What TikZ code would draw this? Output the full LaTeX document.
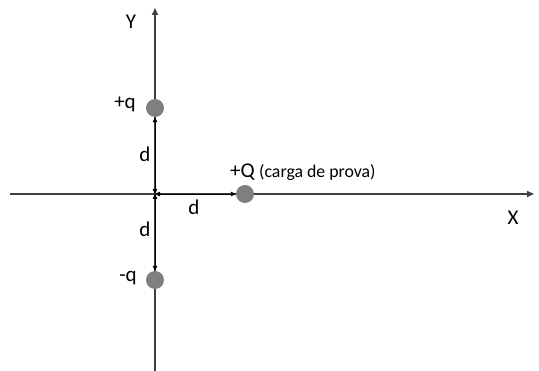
\documentclass[tikz,border=0pt]{standalone}
\usepackage{fontspec}
\setmainfont{Carlito}
\usetikzlibrary{arrows.meta}
\definecolor{axisc}{HTML}{404040}
\definecolor{chargec}{HTML}{7F7F7F}
\begin{document}
\begin{tikzpicture}[x=1pt,y=-1pt,
  axis/.style={draw=axisc,line width=1.6pt,-{Triangle[length=7pt,width=6pt]}},
  dim/.style={draw=black,line width=0.8pt,{Triangle[length=5pt,width=4.5pt]}-{Triangle[length=5pt,width=4.5pt]}},
  charge/.style={circle,fill=chargec,minimum size=18pt,inner sep=0pt},
  lbl/.style={font=\fontsize{21}{23}\selectfont,inner sep=0pt},
  small/.style={font=\fontsize{17.8}{19}\selectfont,inner sep=0pt}]
\useasboundingbox (0,0) rectangle (539,371);
\coordinate (xs) at (10,194);
\coordinate (xe) at (534,194);
\coordinate (ys) at (155,371);
\coordinate (ye) at (155,8);
\coordinate (o) at (155,194);
\draw[axis] (xs) -- (xe);
\draw[axis] (ys) -- (ye);
\node[charge] (qp) at (155,108) {};
\node[charge] (qm) at (155,280) {};
\node[charge] (Q) at (245,194) {};
\draw[dim] (o) -- (qp.south);
\draw[dim] (o) -- (qm.north);
\draw[dim] (o) -- (Q.west);
\node[lbl] (Y) at (131,22) {Y};
\node[lbl] (X) at (513,218) {X};
\node[lbl] (lqp) at (125,104) {+q};
\node[lbl] (lqm) at (128,278) {-q};
\node[lbl] (d1) at (145,154) {d};
\node[lbl] (d2) at (145,229) {d};
\node[lbl] (d3) at (194,207) {d};
\node[lbl,anchor=base west] (lQ) at (230,178) {+Q};
\node[small,anchor=base west] (lc) at (lQ.base east) {\ (carga de prova)};
\end{tikzpicture}
\end{document}
